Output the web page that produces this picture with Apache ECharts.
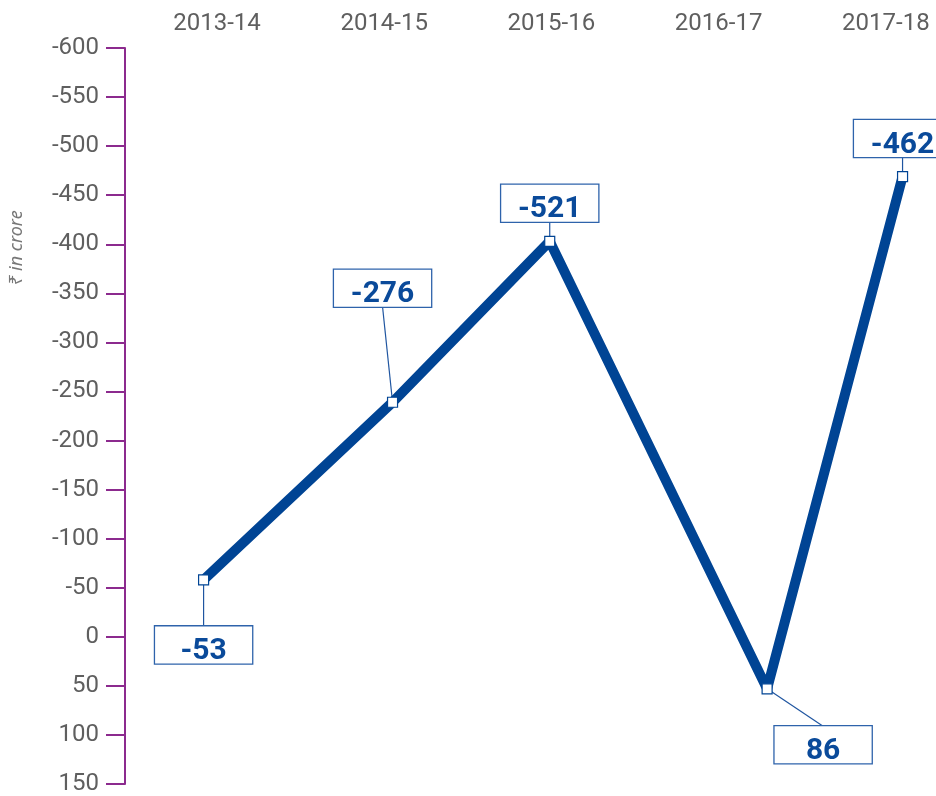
<!DOCTYPE html>
<html>
<head>
<meta charset="utf-8">
<script src="https://cdn.jsdelivr.net/npm/echarts@6/dist/echarts.min.js"></script>
<style>
  html, body { margin: 0; padding: 0; background: #fff; }
  #chart { width: 936px; height: 796px; }
</style>
</head>
<body>
<div id="chart"></div>
<script>
// categories shown across the top
let years = ['2013-14', '2014-15', '2015-16', '2016-17', '2017-18']

// where each point sits (x in category units, y on the axis)
let pointX = [-0.08, 1.05, 1.99, 3.29, 4.1]
let pointY = [-58, -239, -403, 53, -469]

// the printed values in the boxes
let valueLabels = ['-53', '-276', '-521', '86', '-462']

// y axis
let yMin = -600
let yMax = 150
let yStep = 50

// label box placement relative to its point, and which side the leader attaches to
let boxOffsets = [[0, 65], [-10, -114], [0, -38], [56, 56], [0, -38]]
let boxAnchors = ['top', 'bottom', 'bottom', 'top', 'bottom']
const boxH = 37

const blue = '#004494'
const purple = '#8c2a8e'
const grey = '#5f5f5f'

let chart = echarts.init(document.getElementById('chart'))

let seriesData = pointX.map((x, i) => ({ value: [x, pointY[i]] }))

let option = {
  animation: false,
  grid: { left: 125, right: 0, top: 48, bottom: 12 },
  xAxis: {
    type: 'value',
    position: 'top',
    min: -0.55,
    max: 4.3,
    axisLine: { show: false },
    axisTick: { show: false },
    splitLine: { show: false },
    axisLabel: {
      customValues: [0, 1, 2, 3, 4],
      formatter: v => years[Math.round(v)],
      color: grey,
      fontFamily: 'Roboto',
      fontSize: 24,
      margin: 12
    }
  },
  yAxis: {
    type: 'value',
    inverse: true,
    min: yMin,
    max: yMax,
    interval: yStep,
    splitLine: { show: false },
    axisLine: { show: true, onZero: false, lineStyle: { color: purple, width: 2 } },
    axisTick: { show: true, length: 19, lineStyle: { color: purple, width: 2 } },
    axisLabel: {
      color: grey,
      fontFamily: 'Roboto',
      fontSize: 24,
      margin: 26
    }
  },
  graphic: [{
    type: 'text',
    x: 17,
    y: 248,
    rotation: Math.PI / 2,
    style: {
      text: '₹ in crore',
      fill: '#777',
      font: 'italic 18px "Noto Sans"',
      align: 'center',
      verticalAlign: 'middle'
    }
  }],
  series: [{
    // leader lines from each point to its box
    type: 'custom',
    z: 1,
    data: seriesData,
    encode: { x: 0, y: 1 },
    renderItem: (params, api) => {
      let i = params.dataIndex
      let p = api.coord([api.value(0), api.value(1)])
      let lx = p[0] + boxOffsets[i][0]
      let ly = p[1] + boxOffsets[i][1]
      let ay = boxAnchors[i] === 'top' ? ly - boxH / 2 : ly + boxH / 2
      return {
        type: 'line',
        shape: { x1: p[0], y1: p[1], x2: lx, y2: ay },
        style: { stroke: '#1f55a0', lineWidth: 1.2 }
      }
    }
  }, {
    type: 'line',
    z: 2,
    data: seriesData,
    symbol: 'rect',
    symbolSize: 10,
    lineStyle: { color: blue, width: 10, join: 'bevel', cap: 'butt' },
    itemStyle: { color: '#fff', borderColor: blue, borderWidth: 1.2 },
    label: {
      show: true,
      position: 'inside',
      formatter: p => '{v|' + valueLabels[p.dataIndex] + '}',
      backgroundColor: '#fff',
      borderColor: '#2e63ab',
      borderWidth: 1.3,
      width: 97,
      height: boxH,
      align: 'center',
      verticalAlign: 'middle',
      rich: {
        v: {
          color: '#0a4a9a',
          fontFamily: 'Roboto',
          fontWeight: 'bold',
          fontSize: 30,
          lineHeight: 30,
          padding: [20, 0, 0, 0]
        }
      }
    },
    labelLayout: params => {
      let i = params.dataIndex
      let cx = params.rect.x + params.rect.width / 2
      let cy = params.rect.y + params.rect.height / 2
      return {
        x: cx + boxOffsets[i][0],
        y: cy + boxOffsets[i][1],
        align: 'center',
        verticalAlign: 'middle'
      }
    }
  }]
}

chart.setOption(option)
</script>
</body>
</html>
